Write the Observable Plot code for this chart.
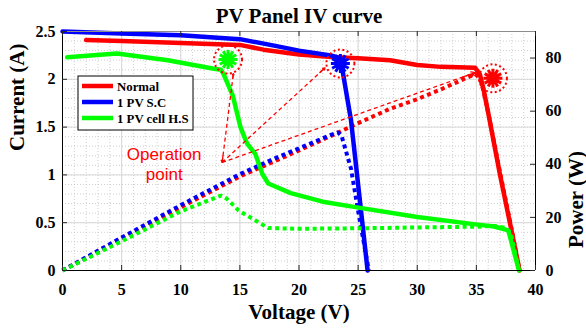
<!DOCTYPE html>
<html>
<head>
<meta charset="utf-8">
<script src="https://cdn.jsdelivr.net/npm/d3@7"></script>
<script src="https://cdn.jsdelivr.net/npm/@observablehq/plot@0.6"></script>
<style>
  html, body { margin: 0; padding: 0; background: #fff; }
  #chart { position: relative; width: 586px; height: 331px; }
</style>
</head>
<body>
<div id="chart"></div>
<script>
// Series names and colours
const seriesNames = ["Normal", "1 PV S.C", "1 PV cell H.S"];
const seriesColors = ["#ff0000", "#0000ff", "#00ff00"];

// Current (A) against voltage (V)
const normalV = [2, 5, 10, 15, 17, 20, 23, 25, 27.7, 30, 32, 34.9, 35.3, 35.6, 36, 37, 38, 38.65];
const normalI = [2.41, 2.40, 2.38, 2.36, 2.31, 2.26, 2.23, 2.22, 2.20, 2.15, 2.13, 2.12, 2.05, 1.90, 1.65, 1.00, 0.40, 0];
const shortV = [0, 5, 10, 15, 18, 20, 22.7, 23.3, 23.6, 24.4, 25, 25.8];
const shortI = [2.50, 2.48, 2.46, 2.42, 2.35, 2.30, 2.25, 2.23, 2.15, 1.57, 0.90, 0];
const shadedV = [0.4, 4.6, 8.9, 12.8, 13.4, 13.6, 14.4, 15.05, 15.6, 16.3, 16.9, 17.4, 19.3, 22, 24.9, 30, 35.1, 36.5, 37.7, 38.6];
const shadedI = [2.23, 2.27, 2.20, 2.11, 2.10, 2.06, 1.83, 1.50, 1.33, 1.22, 1.01, 0.91, 0.81, 0.72, 0.66, 0.56, 0.48, 0.46, 0.42, 0];

// Power (W) against voltage (V)
const normalPV = [0, 5, 10, 15, 17, 20, 23, 25, 27.7, 30, 32, 34.9, 35.3, 35.6, 36, 37, 38, 38.65];
const normalP = [0, 12.0, 23.8, 35.4, 39.3, 45.2, 51.3, 55.5, 60.9, 64.5, 68.2, 74.0, 72.4, 67.6, 59.4, 37.0, 15.2, 0];
const shortPV = [0, 5, 10, 15, 18, 20, 22.7, 23.3, 23.6, 24.4, 25, 25.9];
const shortP = [0, 12.4, 24.6, 36.3, 42.3, 46.0, 51.1, 52.0, 50.7, 38.3, 22.5, 0];
const shadedPV = [0, 5, 10, 13.4, 13.9, 14.9, 15.6, 16.6, 17.4, 20, 25, 30, 35, 36.5, 37.3, 37.9, 38.6];
const shadedP = [0, 11.0, 22.3, 28.2, 27.0, 22.6, 20.7, 18.1, 16.0, 15.7, 15.9, 16.2, 16.5, 16.8, 16.2, 14.3, 0];

// Operating points (same order as the series)
const opV = [36.4, 23.5, 14.0];
const opI = [2.01, 2.165, 2.207];

// "Operation point" note: label position, arrow origin and arrow ends
const noteText = "Operation\npoint";
const noteLabelV = 8.6, noteLabelI = 1.12;
const noteV = 13.5, noteI = 1.13;
const arrowEndV = [34.9, 22.2, 14.45];
const arrowEndI = [2.07, 2.12, 2.06];

// Axes
const xTicks = [0, 5, 10, 15, 20, 25, 30, 35, 40];
const currentTicks = [0, 0.5, 1, 1.5, 2, 2.5];
const powerTicks = [0, 20, 40, 60, 80];
const currentMax = 2.5, powerMax = 90;
const toCurrentAxis = p => p * currentMax / powerMax;

const pairs = (xs, ys, key) => xs.map((v, k) => ({v, [key]: ys[k]}));
const ivSeries = [pairs(normalV, normalI, "i"), pairs(shortV, shortI, "i"), pairs(shadedV, shadedI, "i")];
const pvSeries = [pairs(normalPV, normalP, "p"), pairs(shortPV, shortP, "p"), pairs(shadedPV, shadedP, "p")];
const ops = opV.map((v, k) => ({v, i: opI[k], color: seriesColors[k]}));
const arrows = arrowEndV.map((v, k) => ({v1: noteV, i1: noteI, v2: v, i2: arrowEndI[k]}));
const lerp = (a, b, t) => a + (b - a) * t;

// 12-spoke burst for the operating-point markers
const burst = {
  draw(ctx, size) {
    const r = Math.sqrt(size / Math.PI);
    for (let k = 0; k < 12; ++k) {
      const a = (k / 12) * 2 * Math.PI;
      ctx.moveTo(0, 0);
      ctx.lineTo(r * Math.cos(a), r * Math.sin(a));
    }
  }
};

const W = 586, H = 331, mL = 62, mR = 51, mT = 31, mB = 61;
const frameW = W - mL - mR, frameH = H - mT - mB;
const minorV = d3.range(0, 40.01, 1);
const minorI = d3.range(0, 2.501, 0.1);

const marks = [
  Plot.ruleX(minorV, {stroke: "#c4c4c4", strokeWidth: 0.8, strokeDasharray: "1,2"}),
  Plot.ruleY(minorI, {stroke: "#c4c4c4", strokeWidth: 0.8, strokeDasharray: "1,2"}),
  Plot.ruleX(xTicks, {stroke: "#d8d8d8", strokeWidth: 1}),
  Plot.ruleY(currentTicks, {stroke: "#d8d8d8", strokeWidth: 1})
];
ivSeries.forEach((rows, k) => {
  marks.push(Plot.line(rows, {x: "v", y: "i", stroke: seriesColors[k], strokeWidth: 4.5, strokeLinejoin: "round"}));
  marks.push(Plot.line(pvSeries[k], {
    x: "v", y: d => toCurrentAxis(d.p), stroke: seriesColors[k],
    strokeWidth: 4, strokeDasharray: "4,3.5", strokeLinecap: "butt", strokeLinejoin: "miter"
  }));
});
marks.push(
  // operating points and their dotted rings
  Plot.dot(ops, {x: "v", y: "i", r: 4.5, fill: "color", stroke: "none"}),
  Plot.dot(ops, {x: "v", y: "i", r: 9.5, symbol: burst, stroke: "color", strokeWidth: 3, strokeLinecap: "butt", fill: "none"}),
  Plot.dot(ops, {x: "v", y: "i", r: 14, stroke: "#ff0000", strokeWidth: 2, strokeDasharray: "2,2.5", strokeLinecap: "butt", fill: "none"}),
  // dashed leader lines from the note
  Plot.link(arrows, {x1: "v1", y1: "i1", x2: "v2", y2: "i2", stroke: "#ff0000", strokeWidth: 1.3, strokeDasharray: "4,3", strokeLinecap: "butt"}),
  Plot.arrow(arrows, {
    x1: d => lerp(d.v1, d.v2, 0.95), y1: d => lerp(d.i1, d.i2, 0.95), x2: "v2", y2: "i2",
    stroke: "#ff0000", strokeWidth: 1.3, headLength: 7
  }),
  Plot.arrow(arrows.slice(2), {
    x1: d => lerp(d.v1, d.v2, 0.08), y1: d => lerp(d.i1, d.i2, 0.08), x2: "v1", y2: "i1",
    stroke: "#ff0000", strokeWidth: 1.3, headLength: 7
  }),
  Plot.text([noteText], {
    x: () => noteLabelV, y: () => noteLabelI, fill: "#ff0000", fontSize: 17,
    fontFamily: "Liberation Sans, Arial, sans-serif", fontWeight: "normal", lineHeight: 1.17
  }),
  // box and inward ticks
  Plot.ruleX([0, 40], {stroke: "#000", strokeWidth: 1}),
  Plot.ruleY([0], {stroke: "#000", strokeWidth: 1}),
  Plot.ruleY([2.5], {stroke: "#8c8c8c", strokeWidth: 1}),
  Plot.ruleX(xTicks, {stroke: "#262626", insetTop: frameH - 5}),
  Plot.ruleX(xTicks, {stroke: "#262626", insetBottom: frameH - 5}),
  Plot.ruleY(currentTicks, {stroke: "#262626", insetRight: frameW - 5}),
  Plot.ruleY(powerTicks.map(toCurrentAxis), {stroke: "#262626", insetLeft: frameW - 5}),
  // tick labels
  Plot.axisX(xTicks, {tickSize: 0, tickPadding: 13, label: null, tickFormat: d => String(d)}),
  Plot.axisY(currentTicks, {anchor: "left", tickSize: 0, tickPadding: 7, label: null, tickFormat: d => String(d)}),
  Plot.axisY(powerTicks.map(toCurrentAxis), {
    anchor: "right", tickSize: 0, tickPadding: 10, label: null,
    tickFormat: d => String(Math.round(d * powerMax / currentMax))
  }),
  // titles
  Plot.text(["PV Panel IV curve"], {frameAnchor: "top", dy: -9, lineAnchor: "bottom", fontSize: 21}),
  Plot.text(["Voltage (V)"], {frameAnchor: "bottom", dy: 48, lineAnchor: "bottom", fontSize: 21}),
  Plot.text(["Current (A)"], {frameAnchor: "left", dx: -39, rotate: -90, lineAnchor: "bottom", fontSize: 21}),
  Plot.text(["Power (W)"], {frameAnchor: "right", dx: 47, rotate: -90, lineAnchor: "bottom", fontSize: 21})
);

const svg = Plot.plot({
  width: W, height: H,
  marginLeft: mL, marginRight: mR, marginTop: mT, marginBottom: mB,
  x: {domain: [0, 40]},
  y: {domain: [0, currentMax]},
  style: {fontFamily: "Liberation Serif, 'Times New Roman', serif", fontSize: "16px", fontWeight: "bold", background: "#fff", color: "#000"},
  marks
});

// Legend box
const lg = d3.select(svg).append("g").attr("transform", "translate(78,76)").attr("text-anchor", "start");
lg.append("rect").attr("width", 115).attr("height", 54).attr("fill", "#fff").attr("stroke", "#000").attr("stroke-width", 1);
seriesNames.forEach((name, k) => {
  const y = 10 + k * 16;
  lg.append("line").attr("x1", 4).attr("x2", 35).attr("y1", y).attr("y2", y)
    .attr("stroke", seriesColors[k]).attr("stroke-width", 4.5);
  lg.append("text").attr("x", 39).attr("y", y + 4.5).attr("text-anchor", "start")
    .attr("font-size", 12.8).attr("font-weight", "bold").attr("fill", "#000").text(name);
});

document.getElementById("chart").appendChild(svg);
</script>
</body>
</html>
